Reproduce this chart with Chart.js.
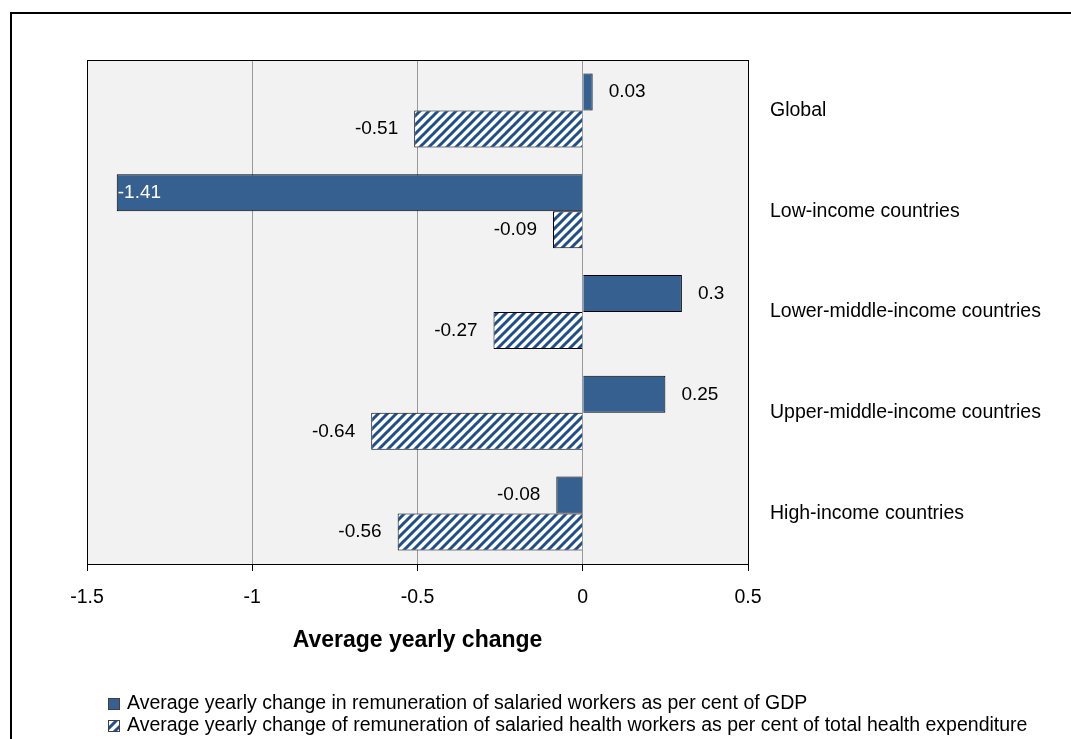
<!DOCTYPE html>
<html>
<head>
<meta charset="utf-8">
<script src="https://cdn.jsdelivr.net/npm/chart.js@4.4.0/dist/chart.umd.min.js"></script>
<style>
  html, body { margin: 0; padding: 0; background: #fff; }
  #wrap { width: 1071px; height: 739px; }
</style>
</head>
<body>
<div id="wrap"><canvas id="myChart" width="1071" height="739"></canvas></div>
<script>
const categories = [
  'Global',
  'Low-income countries',
  'Lower-middle-income countries',
  'Upper-middle-income countries',
  'High-income countries'
];
const gdpChange = [0.03, -1.41, 0.3, 0.25, -0.08];
const healthChange = [-0.51, -0.09, -0.27, -0.64, -0.56];
const xTicks = [-1.5, -1, -0.5, 0, 0.5];
const seriesNames = [
  'Average yearly change in remuneration of salaried workers as per cent of GDP',
  'Average yearly change of remuneration of salaried health workers as per cent of total health expenditure'
];
const axisTitle = 'Average yearly change';

const FONT = '"Liberation Sans", Arial, sans-serif';
const canvas = document.getElementById('myChart');
const mainCtx = canvas.getContext('2d');

// diagonal stripes for the second series
function makeHatch() {
  const s = 9;
  const c = document.createElement('canvas');
  c.width = s; c.height = s;
  const g = c.getContext('2d');
  g.fillStyle = '#ffffff';
  g.fillRect(0, 0, s, s);
  g.strokeStyle = '#1f4e8c';
  g.lineWidth = 3;
  g.beginPath();
  g.moveTo(-2, s + 2); g.lineTo(s + 2, -2);
  g.moveTo(-2, 2); g.lineTo(2, -2);
  g.moveTo(s - 2, s + 2); g.lineTo(s + 2, s - 2);
  g.stroke();
  return mainCtx.createPattern(c, 'repeat');
}
const hatch = makeHatch();

const frame = {
  id: 'frame',
  beforeDraw(chart) {
    const ctx = chart.ctx, a = chart.chartArea;
    ctx.save();
    ctx.fillStyle = '#ffffff';
    ctx.fillRect(0, 0, chart.width, chart.height);
    ctx.fillStyle = '#f2f2f2';
    ctx.fillRect(a.left, a.top, a.right - a.left, a.bottom - a.top);
    ctx.restore();
  },
  afterDraw(chart) {
    const ctx = chart.ctx, a = chart.chartArea;
    ctx.save();
    ctx.strokeStyle = '#000';
    ctx.lineWidth = 1;
    ctx.strokeRect(a.left + 0.5, a.top + 0.5, a.right - a.left, a.bottom - a.top);
    ctx.lineWidth = 2;
    ctx.strokeRect(11, 13, chart.width + 20, chart.height + 20);

    // legend
    ctx.font = '19.5px ' + FONT;
    ctx.textBaseline = 'middle';
    ctx.textAlign = 'left';
    const x0 = a.left + 21;
    chart.data.datasets.forEach((ds, i) => {
      const y = a.bottom + 140 + i * 22;
      ctx.fillStyle = ds.backgroundColor;
      ctx.fillRect(x0, y - 6, 12, 12);
      ctx.lineWidth = 1;
      ctx.strokeStyle = '#404040';
      ctx.strokeRect(x0 + 0.5, y - 5.5, 11, 11);
      ctx.fillStyle = '#000';
      ctx.fillText(ds.label, x0 + 19, y);
    });
    ctx.restore();
  }
};

const barLabels = {
  id: 'barLabels',
  afterDatasetsDraw(chart) {
    const ctx = chart.ctx, a = chart.chartArea;
    ctx.save();
    ctx.font = '19px ' + FONT;
    ctx.textBaseline = 'middle';
    chart.data.datasets.forEach((ds, i) => {
      chart.getDatasetMeta(i).data.forEach((bar, j) => {
        const v = ds.data[j];
        const txt = String(v);
        const w = ctx.measureText(txt).width;
        const gap = 16;
        if (v >= 0) {
          ctx.textAlign = 'left';
          ctx.fillStyle = '#000';
          ctx.fillText(txt, bar.x + gap, bar.y);
        } else if (bar.x - gap - w < a.left) {
          ctx.textAlign = 'left';
          ctx.fillStyle = '#fff';
          ctx.fillText(txt, bar.x + 1, bar.y);
        } else {
          ctx.textAlign = 'right';
          ctx.fillStyle = '#000';
          ctx.fillText(txt, bar.x - gap, bar.y);
        }
      });
    });
    ctx.restore();
  }
};

const data = {
  labels: categories,
  datasets: [{
    label: seriesNames[0],
    data: gdpChange,
    backgroundColor: '#36608f',
    borderColor: '#000',
    borderWidth: 1
  }, {
    label: seriesNames[1],
    data: healthChange,
    backgroundColor: hatch,
    borderColor: '#000',
    borderWidth: 1
  }]
};

const config = {
  type: 'bar',
  data: data,
  options: {
    indexAxis: 'y',
    responsive: false,
    animation: false,
    categoryPercentage: 0.734,
    barPercentage: 1,
    layout: { padding: { top: 60, left: 87, right: 0, bottom: 0 } },
    plugins: {
      legend: { display: false },
      tooltip: { enabled: false }
    },
    scales: {
      x: {
        min: -1.5,
        max: 0.5,
        afterBuildTicks: (axis) => { axis.ticks = xTicks.map(v => ({ value: v })); },
        afterFit: (axis) => { axis.height = 175; },
        grid: { color: '#999999', lineWidth: 1, tickColor: '#000', tickLength: 7 },
        border: { color: '#000' },
        ticks: {
          color: '#000',
          font: { family: FONT, size: 19.5 },
          padding: 15,
          maxRotation: 0,
          callback: (v) => String(v)
        },
        title: {
          display: true,
          text: axisTitle,
          color: '#000',
          font: { family: FONT, size: 23, weight: 'bold' },
          padding: { top: 0, bottom: 85 }
        }
      },
      y: {
        position: 'right',
        afterFit: (axis) => { axis.width = 323; },
        grid: { display: false, drawTicks: false },
        border: { display: false },
        ticks: {
          color: '#000',
          font: { family: FONT, size: 19.5 },
          padding: 22,
          crossAlign: 'near'
        }
      }
    }
  },
  plugins: [frame, barLabels]
};

const myChart = new Chart(canvas, config);
</script>
</body>
</html>
